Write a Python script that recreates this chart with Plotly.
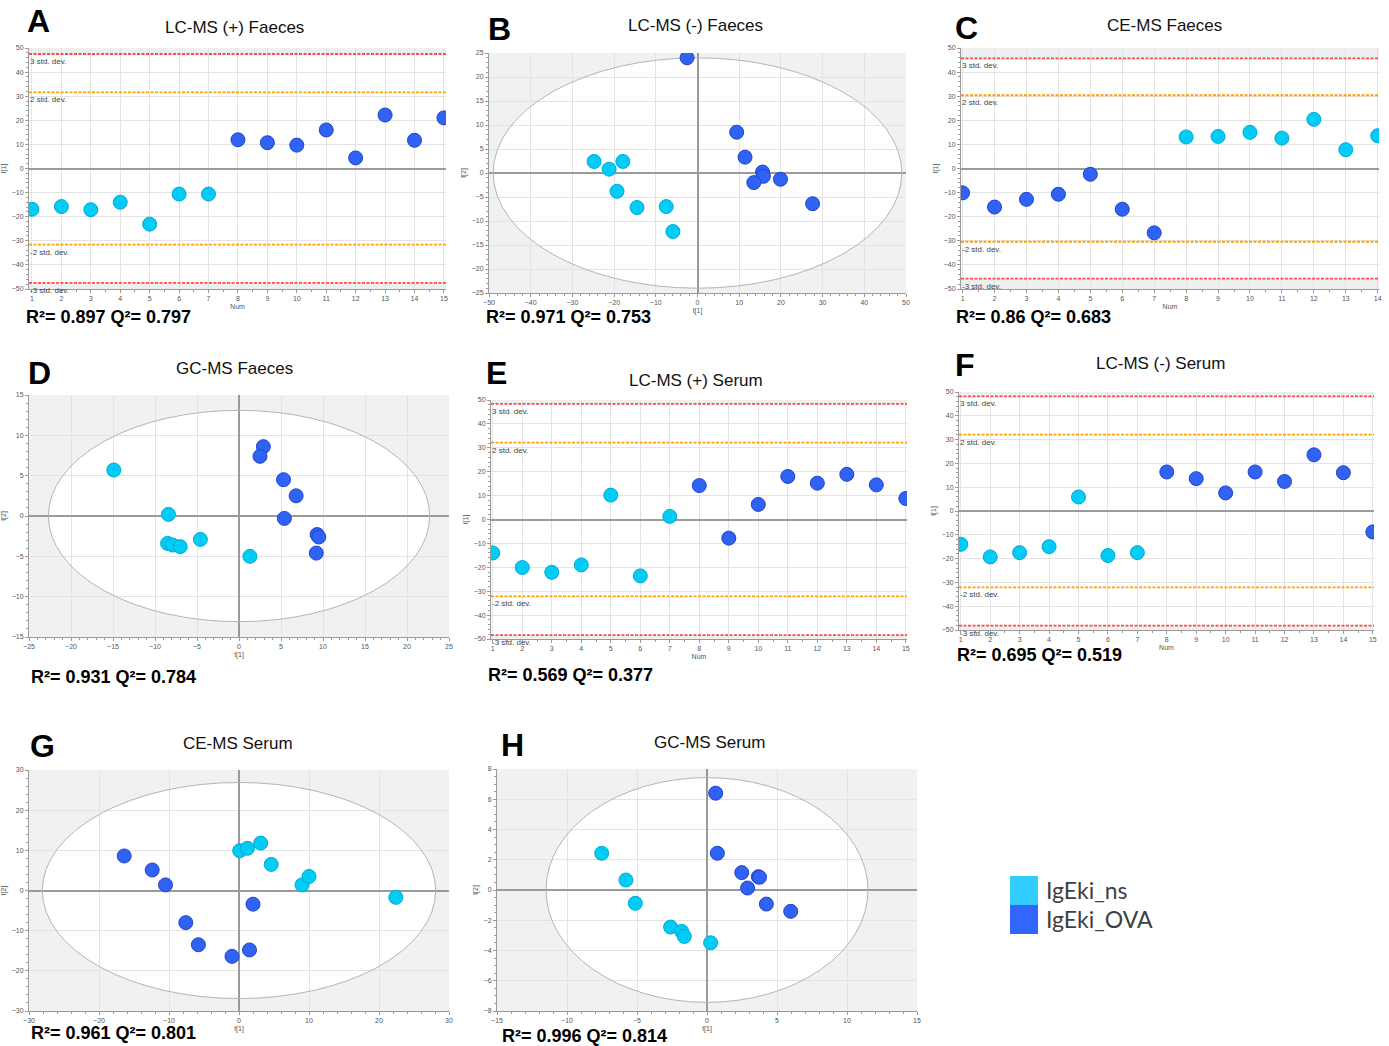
import plotly.graph_objects as go

W, H = 1389, 1046

NS_COLOR = "#00CCF5"
NS_EDGE = "#00A9D6"
OVA_COLOR = "#2F62F5"
OVA_EDGE = "#1F45C8"
GROUP_NAMES = ["IgEki_ns", "IgEki_OVA"]

# ---------------- Panel A: LC-MS (+) Faeces (t[1] per sample) ----------------
a_num_ns = [1, 2, 3, 4, 5, 6, 7]
a_t1_ns = [-16.9, -15.8, -17.1, -14.0, -23.1, -10.6, -10.6]
a_num_ova = [8, 9, 10, 11, 12, 13, 14, 15]
a_t1_ova = [11.9, 10.7, 9.7, 16.0, 4.4, 22.2, 11.7, 21.0]
a_sd = [31.6, 47.5]          # 2 and 3 std. dev. limits
a_stats = "R²= 0.897 Q²= 0.797"

# ---------------- Panel B: LC-MS (-) Faeces (t[1] vs t[2]) ----------------
b_t1_ns = [-24.8, -21.2, -17.9, -19.3, -14.5, -7.5, -5.9]
b_t2_ns = [2.4, 0.8, 2.4, -3.8, -7.2, -7.0, -12.2]
b_t1_ova = [-2.5, 9.4, 11.4, 15.6, 15.8, 13.5, 19.9, 27.6]
b_t2_ova = [24.0, 8.5, 3.3, 0.2, -0.7, -2.0, -1.3, -6.4]
b_ellipse = [49.0, 24.0]     # Hotelling T2 semi-axes
b_stats = "R²= 0.971 Q²= 0.753"

# ---------------- Panel C: CE-MS Faeces ----------------
c_num_ova = [1, 2, 3, 4, 5, 6, 7]
c_t1_ova = [-10.1, -16.0, -12.8, -10.7, -2.4, -16.9, -26.7]
c_num_ns = [8, 9, 10, 11, 12, 13, 14]
c_t1_ns = [13.1, 13.3, 15.0, 12.6, 20.4, 7.8, 13.6]
c_sd = [30.4, 45.7]
c_stats = "R²= 0.86 Q²= 0.683"

# ---------------- Panel D: GC-MS Faeces ----------------
d_t1_ns = [-14.9, -8.4, -8.5, -7.9, -7.0, -4.6, 1.3]
d_t2_ns = [5.7, 0.2, -3.4, -3.6, -3.8, -2.9, -5.0]
d_t1_ova = [2.9, 2.5, 5.3, 6.8, 5.4, 9.3, 9.5, 9.2]
d_t2_ova = [8.6, 7.4, 4.5, 2.5, -0.3, -2.3, -2.6, -4.6]
d_ellipse = [22.7, 13.1]
d_stats = "R²= 0.931 Q²= 0.784"

# ---------------- Panel E: LC-MS (+) Serum ----------------
e_num_ns = [1, 2, 3, 4, 5, 6, 7]
e_t1_ns = [-14.0, -20.1, -22.1, -19.0, 10.2, -23.6, 1.3]
e_num_ova = [8, 9, 10, 11, 12, 13, 14, 15]
e_t1_ova = [14.2, -7.8, 6.3, 18.0, 15.2, 18.9, 14.5, 8.8]
e_sd = [32.2, 48.4]
e_stats = "R²= 0.569 Q²= 0.377"

# ---------------- Panel F: LC-MS (-) Serum ----------------
f_num_ns = [1, 2, 3, 4, 5, 6, 7]
f_t1_ns = [-14.0, -19.3, -17.5, -15.0, 5.9, -18.7, -17.5]
f_num_ova = [8, 9, 10, 11, 12, 13, 14, 15]
f_t1_ova = [16.4, 13.6, 7.6, 16.4, 12.4, 23.6, 16.1, -8.8]
f_sd = [32.1, 48.2]
f_stats = "R²= 0.695 Q²= 0.519"

# ---------------- Panel G: CE-MS Serum ----------------
g_t1_ns = [0.1, 1.2, 3.1, 4.6, 9.0, 10.0, 22.4]
g_t2_ns = [9.9, 10.5, 11.8, 6.5, 1.4, 3.5, -1.7]
g_t1_ova = [-16.4, -12.4, -10.5, -7.6, -5.8, -1.0, 1.5, 2.0]
g_t2_ova = [8.6, 5.1, 1.4, -8.0, -13.5, -16.4, -14.8, -3.4]
g_ellipse = [28.1, 26.9]
g_stats = "R²= 0.961 Q²= 0.801"

# ---------------- Panel H: GC-MS Serum ----------------
h_t1_ns = [-7.52, -5.79, -5.12, -2.6, -1.81, -1.62, 0.26]
h_t2_ns = [2.43, 0.66, -0.88, -2.45, -2.74, -3.07, -3.49]
h_t1_ova = [0.62, 0.74, 2.48, 3.67, 3.75, 2.9, 4.24, 5.98]
h_t2_ova = [6.40, 2.43, 1.15, 0.88, 0.84, 0.13, -0.93, -1.41]
h_ellipse = [11.5, 7.43]
h_stats = "R²= 0.996 Q²= 0.814"

# Panel layout (pixel boxes of each plotting area: left, right, top, bottom)
panels = [
    dict(letter="A", title="LC-MS (+) Faeces", kind="line", box=(29, 446, 48, 289),
         xr=[0.9, 15.07], yr=[-50, 50], sd=a_sd, stats=a_stats,
         ns=(a_num_ns, a_t1_ns), ova=(a_num_ova, a_t1_ova),
         letter_xy=(38, 21), title_xy=(235, 28), stats_xy=(24, 317)),
    dict(letter="B", title="LC-MS (-) Faeces", kind="score", box=(489, 906, 53, 293),
         xr=[-50, 50], yr=[-25, 25], xd=10, yd=5, ell=b_ellipse, stats=b_stats,
         ns=(b_t1_ns, b_t2_ns), ova=(b_t1_ova, b_t2_ova),
         letter_xy=(499, 29), title_xy=(695, 25), stats_xy=(484, 317)),
    dict(letter="C", title="CE-MS Faeces", kind="line", box=(961, 1379, 48, 289),
         xr=[0.95, 14.04], yr=[-50, 50], sd=c_sd, stats=c_stats,
         ns=(c_num_ns, c_t1_ns), ova=(c_num_ova, c_t1_ova),
         letter_xy=(967, 28), title_xy=(1164, 25), stats_xy=(954, 317)),
    dict(letter="D", title="GC-MS Faeces", kind="score", box=(29, 449, 395, 637),
         xr=[-25, 25], yr=[-15, 15], xd=5, yd=5, ell=d_ellipse, stats=d_stats,
         ns=(d_t1_ns, d_t2_ns), ova=(d_t1_ova, d_t2_ova),
         letter_xy=(39, 373), title_xy=(235, 368), stats_xy=(29, 677)),
    dict(letter="E", title="LC-MS (+) Serum", kind="line", box=(491, 907, 400, 639),
         xr=[0.94, 15.04], yr=[-50, 50], sd=e_sd, stats=e_stats,
         ns=(e_num_ns, e_t1_ns), ova=(e_num_ova, e_t1_ova),
         letter_xy=(497, 373), title_xy=(696, 380), stats_xy=(486, 675)),
    dict(letter="F", title="LC-MS (-) Serum", kind="line", box=(959, 1374, 392, 630),
         xr=[0.94, 15.04], yr=[-50, 50], sd=f_sd, stats=f_stats,
         ns=(f_num_ns, f_t1_ns), ova=(f_num_ova, f_t1_ova),
         letter_xy=(965, 365), title_xy=(1160, 363), stats_xy=(955, 655)),
    dict(letter="G", title="CE-MS Serum", kind="score", box=(29, 449, 770, 1011),
         xr=[-30, 30], yr=[-30, 30], xd=10, yd=10, ell=g_ellipse, stats=g_stats,
         ns=(g_t1_ns, g_t2_ns), ova=(g_t1_ova, g_t2_ova),
         letter_xy=(42, 746), title_xy=(238, 743), stats_xy=(29, 1033)),
    dict(letter="H", title="GC-MS Serum", kind="score", box=(497, 917, 769, 1011),
         xr=[-15, 15], yr=[-8, 8], xd=5, yd=2, ell=h_ellipse, stats=h_stats,
         ns=(h_t1_ns, h_t2_ns), ova=(h_t1_ova, h_t2_ova),
         letter_xy=(512, 745), title_xy=(709, 742), stats_xy=(500, 1036)),
]


def fx(x):
    return x / W


def fy(y):
    return 1 - y / H


fig = go.Figure()
shapes = []
annotations = []
layout_axes = {}

TICKFONT = dict(family="Arial, Liberation Sans", size=7, color="#555555")
GRID = "#e3e3e3"
AXLINE = "#9a9a9a"

for i, p in enumerate(panels, start=1):
    sx = "" if i == 1 else str(i)
    xa, ya = "x" + sx, "y" + sx
    left, right, top, bottom = p["box"]

    if p["kind"] == "line":
        xaxis = dict(range=p["xr"], tickmode="linear", tick0=1, dtick=1, zeroline=False,
                     title=dict(text="Num", font=TICKFONT, standoff=2),
                     minor=dict(ticks="outside", ticklen=2, dtick=0.5, tickcolor=AXLINE, showgrid=False))
        yaxis = dict(range=p["yr"], tickmode="linear", tick0=-50, dtick=10,
                     title=dict(text="t[1]", font=TICKFONT, standoff=4),
                     zeroline=True, zerolinecolor="#9a9a9a", zerolinewidth=1.5,
                     minor=dict(ticks="outside", ticklen=2, dtick=2, tickcolor=AXLINE, showgrid=False))
    else:
        xaxis = dict(range=p["xr"], tickmode="linear", tick0=0, dtick=p["xd"],
                     title=dict(text="t[1]", font=TICKFONT, standoff=2),
                     zeroline=True, zerolinecolor="#9a9a9a", zerolinewidth=1.5,
                     minor=dict(ticks="outside", ticklen=2, dtick=p["xd"] / 5 if p["xd"] == 10 else 1,
                                tickcolor=AXLINE, showgrid=False))
        yaxis = dict(range=p["yr"], tickmode="linear", tick0=0, dtick=p["yd"],
                     title=dict(text="t[2]", font=TICKFONT, standoff=4),
                     zeroline=True, zerolinecolor="#9a9a9a", zerolinewidth=1.5,
                     minor=dict(ticks="outside", ticklen=2, dtick=p["yd"] / 5 if p["yd"] != 2 else 0.5,
                                tickcolor=AXLINE, showgrid=False))

    common = dict(showgrid=True, gridcolor=GRID, gridwidth=1, showline=True, linecolor=AXLINE,
                  linewidth=1, ticks="outside", ticklen=3, tickcolor=AXLINE, tickfont=TICKFONT,
                  fixedrange=True, automargin=False)
    xaxis.update(common)
    yaxis.update(common)
    xaxis.update(domain=[fx(left), fx(right)], anchor=ya)
    yaxis.update(domain=[fy(bottom), fy(top)], anchor=xa)
    layout_axes["xaxis" + sx] = xaxis
    layout_axes["yaxis" + sx] = yaxis

    x0, x1 = p["xr"]
    y0, y1 = p["yr"]

    if p["kind"] == "line":
        sd2, sd3 = p["sd"]
        # shaded zones outside the 3 std. dev. limits
        for ya0, ya1 in [(sd3, y1), (y0, -sd3)]:
            shapes.append(dict(type="rect", xref=xa, yref=ya, x0=x0, x1=x1, y0=ya0, y1=ya1,
                               fillcolor="#efefef", line=dict(width=0), layer="below"))
        for level, color, label in [(sd3, "#FF4A4A", "3 std. dev."), (sd2, "#FFA000", "2 std. dev."),
                                    (-sd2, "#FFA000", "-2 std. dev."), (-sd3, "#FF4A4A", "-3 std. dev.")]:
            shapes.append(dict(type="line", xref=xa, yref=ya, x0=x0, x1=x1, y0=level, y1=level,
                               line=dict(color=color, width=1.8, dash="3px,1.5px"), layer="between"))
            annotations.append(dict(xref=xa, yref=ya, x=x0, y=level, text=label, showarrow=False,
                                    xanchor="left", yanchor="top", xshift=-1, yshift=-1,
                                    font=dict(family="Arial, Liberation Sans", size=8, color="#444444")))
    else:
        a, b = p["ell"]
        shapes.append(dict(type="rect", xref=xa, yref=ya, x0=x0, x1=x1, y0=y0, y1=y1,
                           fillcolor="#f1f1f1", line=dict(width=0), layer="below"))
        shapes.append(dict(type="circle", xref=xa, yref=ya, x0=-a, x1=a, y0=-b, y1=b,
                           fillcolor="white", line=dict(width=0), layer="below"))
        shapes.append(dict(type="circle", xref=xa, yref=ya, x0=-a, x1=a, y0=-b, y1=b,
                           fillcolor="rgba(0,0,0,0)", line=dict(color="#b4b4b4", width=1),
                           layer="between"))

    for (xs, ys), color, edge, name in [(p["ns"], NS_COLOR, NS_EDGE, GROUP_NAMES[0]),
                                        (p["ova"], OVA_COLOR, OVA_EDGE, GROUP_NAMES[1])]:
        fig.add_trace(go.Scatter(x=xs, y=ys, mode="markers", name=name, showlegend=False,
                                 xaxis=xa, yaxis=ya,
                                 marker=dict(size=14, color=color, line=dict(color=edge, width=1))))

    # panel letter, title and model statistics
    lx, ly = p["letter_xy"]
    annotations.append(dict(xref="paper", yref="paper", x=fx(lx), y=fy(ly), text="<b>%s</b>" % p["letter"],
                            showarrow=False, xanchor="center", yanchor="middle",
                            font=dict(family="Arial, Liberation Sans", size=32, color="black")))
    tx, ty = p["title_xy"]
    annotations.append(dict(xref="paper", yref="paper", x=fx(tx), y=fy(ty), text=p["title"],
                            showarrow=False, xanchor="center", yanchor="middle",
                            font=dict(family="Arial, Liberation Sans", size=17, color="#111111")))
    qx, qy = p["stats_xy"]
    annotations.append(dict(xref="paper", yref="paper", x=fx(qx), y=fy(qy), text="<b>%s</b>" % p["stats"],
                            showarrow=False, xanchor="left", yanchor="middle",
                            font=dict(family="Arial, Liberation Sans", size=18, color="black")))

# group key
for (y_top, y_bot), color, name in [((876, 905), "#33CCFF", GROUP_NAMES[0]),
                                    ((905, 934), "#3366FF", GROUP_NAMES[1])]:
    shapes.append(dict(type="rect", xref="paper", yref="paper", x0=fx(1010), x1=fx(1038),
                       y0=fy(y_bot), y1=fy(y_top), fillcolor=color, line=dict(width=0)))
    annotations.append(dict(xref="paper", yref="paper", x=fx(1044), y=fy((y_top + y_bot) / 2 - 1),
                            text=name, showarrow=False, xanchor="left", yanchor="middle",
                            font=dict(family="Lato, Open Sans", size=23, color="#404040")))

fig.update_layout(width=W, height=H, margin=dict(l=0, r=0, t=0, b=0, autoexpand=False),
                  paper_bgcolor="white", plot_bgcolor="white", showlegend=False,
                  shapes=shapes, annotations=annotations, **layout_axes)

fig.write_html("out.html")
